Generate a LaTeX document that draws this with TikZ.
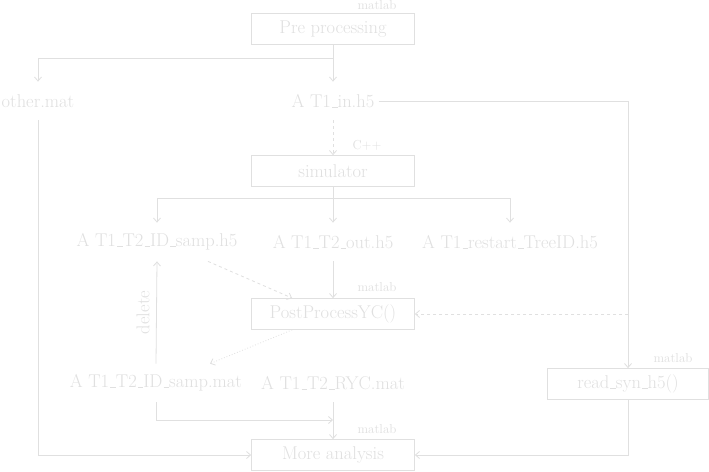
\documentclass[tikz,border=0pt]{standalone}
\usetikzlibrary{arrows.meta,calc}
\definecolor{fg}{gray}{0.88}
\newcommand\usc{\leavevmode\kern.06em\vbox{\hrule width.3em height .6pt}}
\begin{document}
\begin{tikzpicture}[x=1pt,y=-1pt,
  every path/.style={draw=fg, line width=0.8pt},
  arr/.style={-{Straight Barb[length=4pt,width=7pt]}},
  mainf/.style={font=\fontsize{18.5}{22}\selectfont, text=fg},
  box/.style={mainf, draw=fg, line width=0.8pt, minimum width=163pt, minimum height=31pt, inner sep=0pt},
  file/.style={mainf, minimum height=38pt, inner sep=0pt, inner xsep=4pt},
  lab/.style={font=\fontsize{13}{15}\selectfont, text=fg, inner sep=0pt}]
\useasboundingbox[fill=white, draw=none] (0,0) rectangle (709,471);
\node[box] (pre) at (333,29) {Pre processing};
\node[lab] (l1) at (377,5) {matlab};
\node[file] (other) at (38,101) {other.mat};
\node[file] (in) at (333,101) {A T1\usc in.h5};
\node[lab] (l2) at (367,145) {C++};
\node[box] (sim) at (333,171) {simulator};
\node[file] (idh5) at (157,242) {A T1\usc T2\usc ID\usc samp.h5};
\node[file] (out) at (333,242) {A T1\usc T2\usc out.h5};
\node[file] (rst) at (510,242) {A T1\usc restart\usc TreeID.h5};
\node[box] (pp) at (333,314) {PostProcessYC()};
\node[lab] (l3) at (377,287) {matlab};
\node[file] (idmat) at (156,383) {A T1\usc T2\usc ID\usc samp.mat};
\node[file] (ryc) at (333,383) {A T1\usc T2\usc RYC.mat};
\node[box] (more) at (333,455) {More analysis};
\node[lab] (l4) at (377,429) {matlab};
\node[box, minimum width=161pt] (rs) at (628,384) {read\usc syn\usc h5()};
\node[lab] (l5) at (673,358) {matlab};
\coordinate (s1) at (333,58);
\coordinate (s2) at (333,198);
\coordinate (j) at (333,420);
\coordinate (d) at (628,314);
\draw (pre.south) -- (s1);
\draw[arr] (s1) -| (other.north);
\draw[arr] (s1) -- (in.north);
\draw[arr] (in.east) -| (rs.north);
\draw[arr, dashed] (in.south) -- (sim.north);
\draw (sim.south) -- (s2);
\draw[arr] (s2) -| (idh5.north);
\draw[arr] (s2) -| (rst.north);
\draw[arr] (s2) -- (out.north);
\draw[arr] (out.south) -- (pp.north);
\draw[arr, dashed] ([xshift=51pt]idh5.south) -- ([xshift=41pt]pp.north west);
\draw[arr, dotted] ([xshift=41pt]pp.south west) -- ([xshift=54pt]idmat.north);
\draw[arr] (idmat.north) -- (idh5.south) node[midway, above, rotate=90, mainf, inner sep=6.5pt] (del) {delete};
\draw[arr, dashed] (d) -- (pp.east);
\draw[arr] (idmat.south) |- (j);
\draw[arr] (ryc.south) -- (more.north);
\draw[arr] (other.south) |- (more.west);
\draw[arr] (rs.south) |- (more.east);
\end{tikzpicture}
\end{document}
